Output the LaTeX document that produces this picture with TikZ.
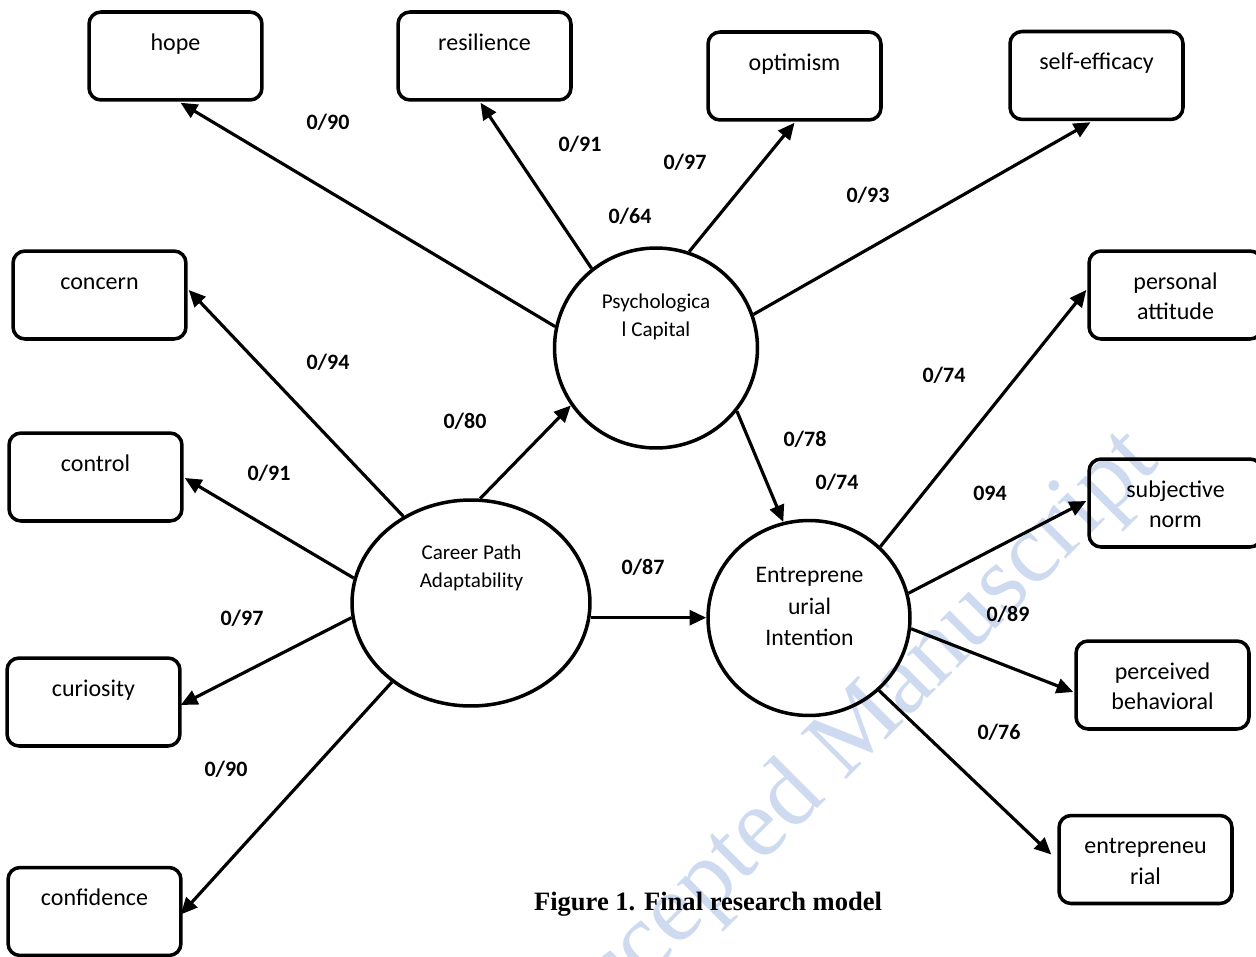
\documentclass[tikz,border=0pt]{standalone}
\usepackage{fontspec}
\setmainfont{Carlito}
\newfontfamily\timesf{Liberation Serif}
\usetikzlibrary{arrows.meta,shapes.geometric,calc}
\definecolor{wmblue}{RGB}{205,218,240}
\begin{document}
\begin{tikzpicture}[x=0.02cm,y=-0.02cm,
  box/.style={draw,line width=2pt,rounded corners=0.24cm,minimum width=3.46cm,minimum height=1.76cm,inner sep=0pt},
  latent/.style={draw,ellipse,line width=2pt,inner sep=0pt},
  btxt/.style={anchor=north,align=center,inner sep=0pt,font=\fontsize{13.66}{17.6}\selectfont},
  ctxt/.style={anchor=north,align=center,inner sep=0pt,font=\fontsize{12}{16}\selectfont},
  etxt/.style={anchor=north,align=center,inner sep=0pt,font=\fontsize{13.5}{17.9}\selectfont},
  lab/.style={anchor=base,inner sep=0pt,font=\bfseries\fontsize{12.5}{15}\selectfont},
  arr/.style={line width=1.8pt,-{Triangle[length=9.5pt,width=8.5pt]}},
  wmtext/.style={rotate=45,text=wmblue,inner sep=0pt,font=\timesf\fontsize{56}{62}\selectfont},
]
\fill[white] (0,0) rectangle (1256,956);
\useasboundingbox (0,0) rectangle (1256,956);

% watermark
\node[wmtext] (wmark) at (846,746) {Accepted Manuscript};

% boxes
\node[box] (hope) at (175.5,56) {};
\node[box] (res) at (484.5,56) {};
\node[box] (opt) at (794.5,76) {};
\node[box] (self) at (1096.5,75.5) {};
\node[box] (concern) at (99.5,295) {};
\node[box] (pers) at (1175.5,295) {};
\node[box] (control) at (95.5,477) {};
\node[box] (subj) at (1175.5,503) {};
\node[box] (curio) at (93.5,702) {};
\node[box] (perc) at (1162.5,685) {};
\node[box] (conf) at (94.5,911.5) {};
\node[box] (entr) at (1145.5,859.5) {};

% box texts
\node[btxt] (hopet) at ($(hope.north)+(0,17.8)$) {\strut hope};
\node[btxt] (rest) at ($(res.north)+(0,17.8)$) {\strut resilience};
\node[btxt] (optt) at ($(opt.north)+(0,17.8)$) {\strut optimism};
\node[btxt] (selft) at ($(self.north)+(0,17.8)$) {\strut self-efficacy};
\node[btxt] (concernt) at ($(concern.north)+(0,17.8)$) {\strut concern};
\node[btxt] (perst) at ($(pers.north)+(0,17.8)$) {\strut personal\\attitude};
\node[btxt] (controlt) at ($(control.north)+(0,17.8)$) {\strut control};
\node[btxt] (subjt) at ($(subj.north)+(0,17.8)$) {\strut subjective\\norm};
\node[btxt] (curiot) at ($(curio.north)+(0,17.8)$) {\strut curiosity};
\node[btxt] (perct) at ($(perc.north)+(0,17.8)$) {\strut perceived\\behavioral};
\node[btxt] (conft) at ($(conf.north)+(0,17.8)$) {\strut confidence};
\node[btxt] (entrt) at ($(entr.north)+(0,17.8)$) {\strut entrepreneu\\rial};

% latent variables
\node[latent,minimum width=4.06cm,minimum height=4.0cm] (PC) at (656,348) {};
\node[latent,minimum width=4.76cm,minimum height=4.12cm] (CP) at (471,603) {};
\node[latent,minimum width=4.04cm,minimum height=3.9cm] (EI) at (809,618) {};
\node[ctxt] (PCt) at (656,288) {\strut Psychologica\\l Capital};
\node[ctxt] (CPt) at (471.5,539.5) {\strut Career Path\\Adaptability};
\node[etxt] (EIt) at (809.5,560.5) {\strut Entreprene\\urial\\Intention};

% connectors
\draw[arr] (PC.168) -- ($(hope.south)+(5,1)$);
\draw[arr] (PC.129.5) -- ($(res.south)+(-4,1)$);
\draw[arr] (PC.71) -- ($(opt.south)+(0,1)$);
\draw[arr] (PC.19.6) -- ($(self.south)+(-6,1)$);
\draw[arr] (PC.322) -- (EI.105);
\draw[arr] (CP.85) -- (PC.214.5);
\draw[arr] (CP.128) -- ($(concern.east)+(1,-5)$);
\draw[arr] (CP.168) -- ($(control.east)+(1,1)$);
\draw[arr] (CP.187) -- ($(curio.east)+(-1,3)$);
\draw[arr] (CP.225) -- ($(conf.east)+(-2,3)$);
\draw[arr] (CP.353) -- (CP.353 -| EI.west);
\draw[arr] (EI.45.8) -- ($(pers.west)+(-1,-5)$);
\draw[arr] (EI.14.6) -- ($(subj.west)+(-1,-2)$);
\draw[arr] (EI.354) -- ($(perc.west)+(-1,7)$);
\draw[arr] (EI.314) -- ($(entr.west)+(-6,-5)$);

% loadings
\node[lab] (l1) at (328,130) {0/90};
\node[lab] (l2) at (580,152) {0/91};
\node[lab] (l3) at (685,170) {0/97};
\node[lab] (l4) at (630,223) {0/64};
\node[lab] (l5) at (868,202) {0/93};
\node[lab] (l6) at (328,369) {0/94};
\node[lab] (l7) at (465,428) {0/80};
\node[lab] (l8) at (944,382) {0/74};
\node[lab] (l9) at (805,446) {0/78};
\node[lab] (l10) at (837,489) {0/74};
\node[lab] (l11) at (990,500) {094};
\node[lab] (l12) at (269,480) {0/91};
\node[lab] (l13) at (643,574) {0/87};
\node[lab] (l14) at (1008,621) {0/89};
\node[lab] (l15) at (242,625) {0/97};
\node[lab] (l16) at (226,776) {0/90};
\node[lab] (l17) at (999,739) {0/76};

% caption
\node[anchor=base,inner sep=0pt,font=\timesf\bfseries\fontsize{15.1}{18}\selectfont] (cap) at (708,910) {Figure 1. Final research model};
\end{tikzpicture}
\end{document}
